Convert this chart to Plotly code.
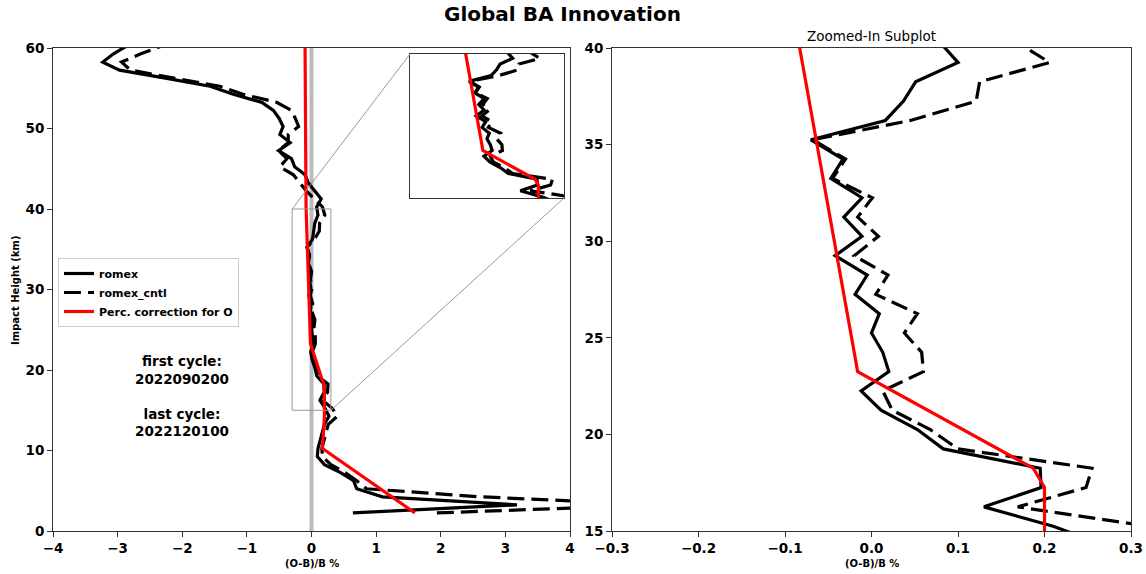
import plotly.graph_objects as go

# Impact height levels (km) and innovation statistics (%)
heights = [2.25, 3.25, 4.25, 5.25, 6.25, 7.25, 8.25, 9.25, 10.25, 11.25,
           12.25, 13.25, 14.25, 15.25, 16.25, 17.25, 18.25, 19.25, 20.25, 21.25,
           22.25, 23.25, 24.25, 25.25, 26.25, 27.25, 28.25, 29.25, 30.25, 31.25,
           32.25, 33.25, 34.25, 35.25, 36.25, 37.25, 38.25, 39.25, 40.25, 41.25,
           42.25, 43.25, 44.25, 45.25, 46.25, 47.25, 48.25, 49.25, 50.25, 51.25,
           52.25, 53.25, 54.25, 55.25, 56.25, 57.25, 58.25, 59.25, 60.25]

romex = [0.64, 3.18, 1.10, 0.70, 0.65, 0.45, 0.20, 0.09, 0.10, 0.13,
         0.16, 0.20, 0.27, 0.21, 0.13, 0.196, 0.195, 0.083, 0.053, 0.011,
         -0.012, 0.020, 0.013, 0.000, 0.009, -0.019, -0.005, -0.042, -0.011, -0.032,
         -0.011, -0.047, -0.033, -0.070, 0.016, 0.037, 0.051, 0.100, 0.08, 0.15,
         0.05, -0.05, -0.10, -0.26, -0.31, -0.51, -0.33, -0.49, -0.44, -0.50,
         -0.59, -0.77, -1.21, -1.57, -2.26, -2.97, -3.23, -3.07, -2.86]

romex_cntl = [1.94, 5.40, 2.60, 0.85, 0.70, 0.52, 0.30, 0.17, 0.16, 0.19,
              0.22, 0.26, 0.40, 0.32, 0.169, 0.248, 0.255, 0.100, 0.068, 0.024,
              0.013, 0.060, 0.058, 0.038, 0.053, 0.005, 0.019, -0.020, 0.008, -0.016,
              0.001, -0.045, -0.030, -0.068, 0.045, 0.121, 0.125, 0.206, 0.17, 0.05,
              -0.08, -0.18, -0.28, -0.49, -0.38, -0.51, -0.36, -0.36, -0.20, -0.25,
              -0.31, -0.54, -1.06, -1.42, -2.09, -2.80, -2.94, -2.65, -2.32]

# Percentile correction applied to observations
corr_heights = [2.25, 10.25, 14.25, 17.25, 18.25, 23.25, 40.25, 60.25]
corr_values = [1.60, 0.17, 0.20, 0.20, 0.187, -0.016, -0.084, -0.10]

cycle_first = "2022090200"
cycle_last = "2022120100"

W, H = 1146, 574
FONT = "DejaVu Sans"

# pixel boxes of the three panels: (left, right, top, bottom)
main_box = (53, 570, 48, 531)
zoom_box = (612, 1131, 48, 531)
inset_box = (410, 564, 54, 198)

main_xr, main_yr = [-4, 4], [0, 60]
zoom_xr, zoom_yr = [-0.3, 0.3], [15, 40]


def xdom(box):
    return [box[0] / W, box[1] / W]


def ydom(box):
    return [1 - box[3] / H, 1 - box[2] / H]


def to_main_data(px, py):
    l, r, t, b = main_box
    x = main_xr[0] + (px - l) / (r - l) * (main_xr[1] - main_xr[0])
    y = main_yr[0] + (b - py) / (b - t) * (main_yr[1] - main_yr[0])
    return x, y


LW = 3.2
DASH = "17px,7px"

fig = go.Figure()

series = [
    ("romex", romex, dict(color="black", width=LW)),
    ("romex_cntl", romex_cntl, dict(color="black", width=LW, dash=DASH)),
]

for xa, ya, legend in [("x", "y", True), ("x2", "y2", False), ("x3", "y3", False)]:
    for name, vals, line in series:
        fig.add_trace(go.Scatter(x=vals, y=heights, mode="lines", name=name,
                                 line=line, showlegend=legend,
                                 xaxis=xa, yaxis=ya))
    fig.add_trace(go.Scatter(x=corr_values, y=corr_heights, mode="lines",
                             name="Perc. correction for O",
                             line=dict(color="red", width=LW),
                             showlegend=legend, xaxis=xa, yaxis=ya))

axis_common = dict(showgrid=False, zeroline=False, showline=True, mirror=True,
                   linecolor="#333", linewidth=1, ticks="outside", ticklen=5,
                   tickwidth=1, tickcolor="#333", automargin=False,
                   tickfont=dict(family=FONT, size=13.5, color="black", weight="bold"))

inset_axis = dict(showgrid=False, zeroline=False, showline=True, mirror=True,
                  linecolor="#333", linewidth=1, ticks="", showticklabels=False,
                  automargin=False)

fig.update_layout(
    width=W, height=H,
    margin=dict(l=0, r=0, t=0, b=0, autoexpand=False),
    paper_bgcolor="white", plot_bgcolor="white",
    font=dict(family=FONT, color="black"),
    xaxis=dict(domain=xdom(main_box), range=main_xr, dtick=1, anchor="y", **axis_common),
    yaxis=dict(domain=ydom(main_box), range=main_yr, dtick=10, anchor="x", **axis_common),
    xaxis2=dict(domain=xdom(zoom_box), range=zoom_xr, dtick=0.1, tickformat=".1f",
                anchor="y2", **axis_common),
    yaxis2=dict(domain=ydom(zoom_box), range=zoom_yr, dtick=5, anchor="x2", **axis_common),
    xaxis3=dict(domain=xdom(inset_box), range=zoom_xr, anchor="y3", **inset_axis),
    yaxis3=dict(domain=ydom(inset_box), range=zoom_yr, anchor="x3", **inset_axis),
    legend=dict(x=58 / W, y=1 - 258 / H, xanchor="left", yanchor="top",
                bgcolor="rgba(255,255,255,0.8)", bordercolor="#cccccc", borderwidth=1,
                font=dict(family=FONT, size=11, color="black", weight="bold"),
                tracegroupgap=0),
)

# zero reference line in the main panel
fig.add_shape(type="line", xref="x", yref="y", x0=0, x1=0, y0=0, y1=60,
              line=dict(color="#bbbbbb", width=4), layer="below")

# zoom region indicator and connectors to the inset
fig.add_shape(type="rect", xref="x", yref="y", x0=zoom_xr[0], x1=zoom_xr[1],
              y0=zoom_yr[0], y1=zoom_yr[1], line=dict(color="#999999", width=1))
ix0, iy0 = to_main_data(inset_box[0], inset_box[2])
ix1, iy1 = to_main_data(inset_box[1], inset_box[3])
fig.add_shape(type="line", xref="x", yref="y", x0=zoom_xr[0], y0=zoom_yr[1],
              x1=ix0, y1=iy0, line=dict(color="#999999", width=1))
fig.add_shape(type="line", xref="x", yref="y", x0=zoom_xr[1], y0=zoom_yr[0],
              x1=ix1, y1=iy1, line=dict(color="#999999", width=1))


def label(text, px, py, size, angle=0):
    return dict(text=text, x=px / W, y=1 - py / H, xref="paper", yref="paper",
                xanchor="center", yanchor="middle", showarrow=False,
                textangle=angle, align="center", font=dict(size=size, family=FONT))


annotations = [
    label("<b>Global BA Innovation</b>", 562, 14, 20),
    label("Zoomed-In Subplot", (zoom_box[0] + zoom_box[1]) / 2, 36, 13.5),
    label("<b>(O-B)/B %</b>", (main_box[0] + main_box[1]) / 2, 563, 10),
    label("<b>(O-B)/B %</b>", (zoom_box[0] + zoom_box[1]) / 2, 563, 10),
    label("<b>Impact Height (km)</b>", 15, 290, 10, angle=-90),
    label(f"<b>first cycle:<br>{cycle_first}<br><br>last cycle:<br>{cycle_last}</b>",
          182, 396, 13.5),
]
fig.update_layout(annotations=annotations)

fig.write_html("out.html")
